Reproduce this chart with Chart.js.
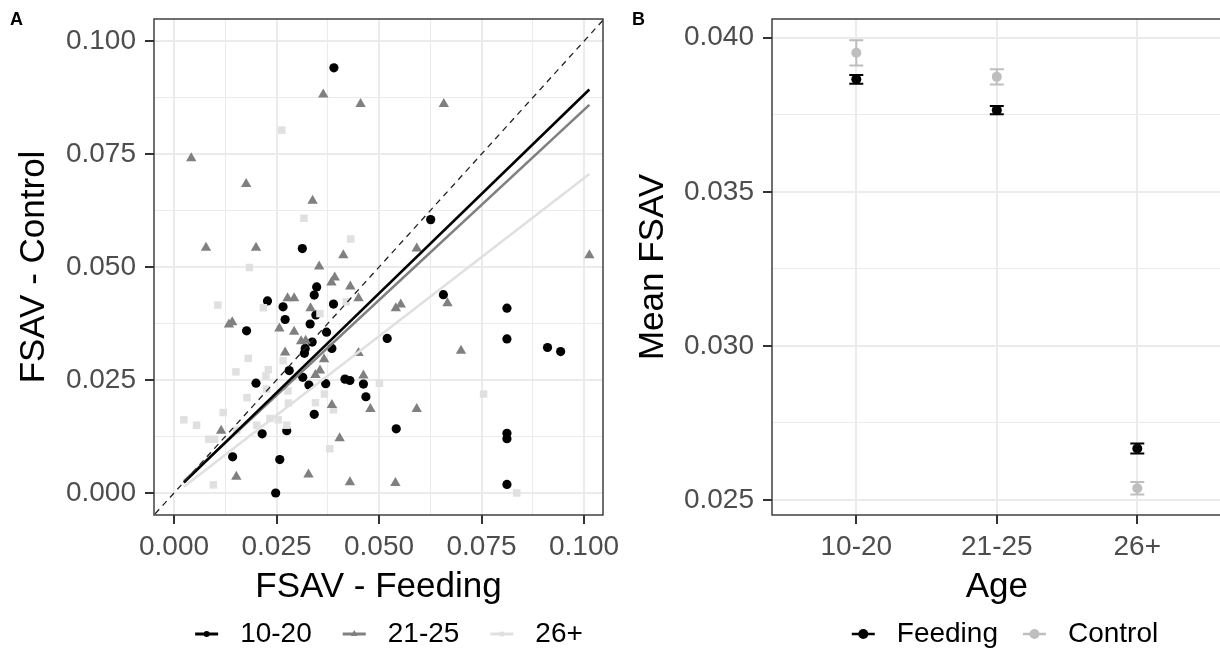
<!DOCTYPE html>
<html><head><meta charset="utf-8">
<script src="https://cdn.jsdelivr.net/npm/chart.js@4.4.1/dist/chart.umd.min.js"></script>
<style>
html,body{margin:0;padding:0;background:#fff;overflow:hidden;width:1220px;height:652px;}
#ca{position:absolute;left:0;top:0;}
#cb{position:absolute;left:628px;top:0;}
</style></head><body>
<canvas id="ca" width="628" height="652"></canvas>
<canvas id="cb" width="602" height="652"></canvas>
<script>
const FONT = "'Liberation Sans', Arial, Helvetica, sans-serif";

// ---------- Panel A data ----------
const groups = ['10-20', '21-25', '26+'];
const g1020_x = [0.0390,0.0626,0.0313,0.0348,0.0342,0.0228,0.0266,0.0389,0.0271,0.0346,0.0332,0.0177,0.0372,0.0657,0.0812,0.0520,0.0812,0.0337,0.0320,0.0318,0.0385,0.0911,0.0943,0.0281,0.0314,0.0200,0.0329,0.0370,0.0417,0.0429,0.0462,0.0468,0.0342,0.0542,0.0812,0.0812,0.0215,0.0275,0.0143,0.0258,0.0812,0.0248];
const g1020_y = [0.0941,0.0605,0.0541,0.0456,0.0438,0.0425,0.0412,0.0418,0.0384,0.0394,0.0374,0.0359,0.0356,0.0439,0.0409,0.0342,0.0341,0.0334,0.0320,0.0309,0.0320,0.0322,0.0313,0.0271,0.0256,0.0243,0.0239,0.0242,0.0252,0.0249,0.0241,0.0213,0.0174,0.0142,0.0132,0.0120,0.0131,0.0138,0.0080,0.0074,0.0019,0.0000];
const g2125_x = [0.0364,0.0455,0.0658,0.0042,0.0176,0.0338,0.0078,0.0200,0.0413,0.0592,0.1013,0.0354,0.0392,0.0384,0.0430,0.0450,0.0277,0.0293,0.0333,0.0541,0.0553,0.0667,0.0134,0.0142,0.0257,0.0293,0.0310,0.0321,0.0271,0.0366,0.0356,0.0345,0.0450,0.0462,0.0385,0.0479,0.0592,0.0700,0.0115,0.0404,0.0152,0.0328,0.0429,0.0540];
const g2125_y = [0.0882,0.0861,0.0861,0.0741,0.0684,0.0647,0.0543,0.0543,0.0526,0.0541,0.0526,0.0501,0.0477,0.0466,0.0457,0.0431,0.0431,0.0431,0.0409,0.0409,0.0417,0.0420,0.0373,0.0378,0.0364,0.0357,0.0336,0.0337,0.0311,0.0296,0.0271,0.0261,0.0310,0.0260,0.0195,0.0186,0.0186,0.0315,0.0138,0.0121,0.0036,0.0041,0.0024,0.0022];
const g26_x = [0.0263,0.0317,0.0431,0.0184,0.0107,0.0218,0.0356,0.0420,0.0181,0.0151,0.0230,0.0224,0.0266,0.0178,0.0226,0.0278,0.0279,0.0120,0.0024,0.0055,0.0085,0.0099,0.0345,0.0367,0.0501,0.0755,0.0380,0.0096,0.0836,0.0234,0.0254,0.0275,0.0202,0.0153,0.0389];
const g26_y = [0.0803,0.0608,0.0562,0.0499,0.0416,0.0410,0.0397,0.0423,0.0298,0.0268,0.0273,0.0259,0.0293,0.0211,0.0230,0.0226,0.0199,0.0178,0.0162,0.0150,0.0119,0.0119,0.0200,0.0219,0.0243,0.0219,0.0098,0.0018,0.0000,0.0165,0.0162,0.0150,0.0150,0.0139,0.0184];
const fit1020_x = [0.0024, 0.1013], fit1020_y = [0.0023, 0.0893];
const fit2125_x = [0.0024, 0.1013], fit2125_y = [0.0026, 0.0859];
const fit26_x = [0.0024, 0.1013], fit26_y = [0.0014, 0.0706];
const identityLine = [-0.01, 0.11];
const aMajor = [0, 0.025, 0.05, 0.075, 0.1];
const aLabels = ['0.000', '0.025', '0.050', '0.075', '0.100'];
const aMinor = [0.0125, 0.0375, 0.0625, 0.0875];

// ---------- Panel B data ----------
const ages = ['10-20', '21-25', '26+'];
const conditions = ['Feeding', 'Control'];
const feedMean = [0.03865, 0.03765, 0.02667];
const feedErr = [0.00014, 0.000135, 0.00016];
const ctrlMean = [0.03951, 0.03873, 0.02538];
const ctrlErr = [0.00041, 0.00025, 0.00020];
const bMajor = [0.025, 0.030, 0.035, 0.040];
const bLabels = ['0.025', '0.030', '0.035', '0.040'];
const bMinor = [0.0275, 0.0325, 0.0375];

// ---------- styles ----------
const colA = ['#000000', '#808080', '#e0e0e0'];
const colB = ['#000000', '#bebebe'];

const pts = (xs, ys) => xs.map((x, i) => ({x, y: ys[i]}));

function makeAxis(o) {
  const isMaj = v => o.majors.some(m => Math.abs(m - v) < 1e-9);
  return {
    type: 'linear', min: o.min, max: o.max,
    afterBuildTicks: s => { s.ticks = o.majors.concat(o.minors).sort((a, b) => a - b).map(v => ({value: v})); },
    ticks: {
      autoSkip: false, maxRotation: 0, minRotation: 0, color: '#4d4d4d',
      font: {family: FONT, size: 28}, padding: o.pad,
      callback: v => { const i = o.majors.findIndex(m => Math.abs(m - v) < 1e-9); return i >= 0 ? o.labels[i] : ''; }
    },
    grid: {
      color: '#ebebeb', lineWidth: c => (c.tick && isMaj(c.tick.value)) ? 2 : 1,
      drawTicks: true, tickLength: 9,
      tickColor: c => (c.tick && isMaj(c.tick.value)) ? '#333333' : 'rgba(0,0,0,0)', tickWidth: 2
    },
    border: {display: false},
    title: {display: true, text: o.title, color: '#000', font: {family: FONT, size: 35}, padding: o.titlePad},
    afterFit: s => {
      if (o.horizontal) { s.height = o.size; s.paddingLeft = 0; s.paddingRight = 0; }
      else { s.width = o.size; s.paddingTop = 0; s.paddingBottom = 0; }
    }
  };
}

function drawMarker(ctx, shape, x, y, r, color) {
  ctx.fillStyle = color;
  ctx.beginPath();
  if (shape === 'circle') ctx.arc(x, y, r, 0, Math.PI * 2);
  else if (shape === 'triangle') { ctx.moveTo(x, y - r); ctx.lineTo(x + r * 0.866, y + r * 0.5); ctx.lineTo(x - r * 0.866, y + r * 0.5); ctx.closePath(); }
  else ctx.rect(x - r * 0.8, y - r * 0.8, r * 1.6, r * 1.6);
  ctx.fill();
}

function drawLegend(ctx, items, cx, y, gap) {
  ctx.save();
  ctx.font = `28px ${FONT}`;
  const keyW = 23, keyGap = 22;
  const widths = items.map(it => ctx.measureText(it.label).width);
  let total = 0;
  widths.forEach((w, i) => { total += keyW + keyGap + w + (i < items.length - 1 ? gap : 0); });
  let x = cx - total / 2;
  items.forEach((it, i) => {
    ctx.strokeStyle = it.color; ctx.lineWidth = it.lw;
    ctx.beginPath(); ctx.moveTo(x, y); ctx.lineTo(x + keyW, y); ctx.stroke();
    drawMarker(ctx, it.shape, x + keyW / 2, y, it.r, it.color);
    ctx.fillStyle = '#000'; ctx.textBaseline = 'middle'; ctx.textAlign = 'left';
    ctx.fillText(it.label, x + keyW + keyGap, y);
    x += keyW + keyGap + widths[i] + gap;
  });
  ctx.restore();
}

const decorPlugin = {
  id: 'decor',
  afterDraw(chart, args, opts) {
    const {ctx, chartArea: a} = chart;
    ctx.save();
    ctx.strokeStyle = '#333333'; ctx.lineWidth = 1.4;
    ctx.strokeRect(a.left, a.top, a.right - a.left, a.bottom - a.top);
    ctx.fillStyle = '#000'; ctx.font = `bold 18px ${FONT}`; ctx.textBaseline = 'alphabetic'; ctx.textAlign = 'left';
    ctx.fillText(opts.tag, opts.tagX, 25);
    ctx.restore();
    drawLegend(ctx, opts.items, opts.legendX, 634, opts.gap);
  }
};

const errorBarPlugin = {
  id: 'errbars',
  beforeDatasetsDraw(chart, args, opts) {
    const {ctx, scales: {x, y}} = chart;
    ctx.save();
    opts.series.forEach(s => {
      ctx.strokeStyle = s.color; ctx.lineWidth = 2;
      s.mean.forEach((m, i) => {
        const px = x.getPixelForValue(i);
        const top = y.getPixelForValue(m + s.err[i]);
        const bot = y.getPixelForValue(m - s.err[i]);
        ctx.beginPath();
        ctx.moveTo(px, top); ctx.lineTo(px, bot);
        ctx.moveTo(px - 7, top); ctx.lineTo(px + 7, top);
        ctx.moveTo(px - 7, bot); ctx.lineTo(px + 7, bot);
        ctx.stroke();
      });
    });
    ctx.restore();
  }
};

// ---------- Chart A ----------
new Chart(document.getElementById('ca'), {
  type: 'scatter',
  data: {
    datasets: [
      {label: 'identity', data: identityLine.map(v => ({x: v, y: v})), showLine: true, pointRadius: 0,
       borderColor: '#222222', borderWidth: 1.3, borderDash: [6, 5], clip: 0, order: 0},
      {label: groups[0] + ' fit', data: pts(fit1020_x, fit1020_y), showLine: true, pointRadius: 0, borderColor: colA[0], borderWidth: 2.6, clip: 0, order: 1},
      {label: groups[1] + ' fit', data: pts(fit2125_x, fit2125_y), showLine: true, pointRadius: 0, borderColor: colA[1], borderWidth: 2.6, clip: 0, order: 2},
      {label: groups[2] + ' fit', data: pts(fit26_x, fit26_y), showLine: true, pointRadius: 0, borderColor: colA[2], borderWidth: 2.6, clip: 0, order: 3},
      {label: groups[1], data: pts(g2125_x, g2125_y), pointStyle: 'triangle', pointRadius: 6, backgroundColor: colA[1], borderWidth: 0, order: 4},
      {label: groups[2], data: pts(g26_x, g26_y), pointStyle: 'rect', pointRadius: 5.3, backgroundColor: colA[2], borderWidth: 0, order: 5},
      {label: groups[0], data: pts(g1020_x, g1020_y), pointStyle: 'circle', pointRadius: 4.6, backgroundColor: colA[0], borderWidth: 0, order: 6}
    ]
  },
  options: {
    responsive: false, animation: false, events: [],
    layout: {padding: {left: 0, top: 19, right: 25, bottom: 0}},
    plugins: {
      legend: {display: false}, tooltip: {enabled: false},
      decor: {tag: 'A', tagX: 10, legendX: 389, gap: 31, items: [
        {label: groups[0], color: colA[0], shape: 'circle', r: 3, lw: 3},
        {label: groups[1], color: colA[1], shape: 'triangle', r: 4, lw: 3},
        {label: groups[2], color: colA[2], shape: 'square', r: 3, lw: 3}
      ]}
    },
    scales: {
      x: makeAxis({horizontal: true, size: 137, min: -0.00488, max: 0.10463, majors: aMajor, labels: aLabels, minors: aMinor,
                   pad: 6, title: 'FSAV - Feeding', titlePad: {top: 0, bottom: 44}}),
      y: makeAxis({horizontal: false, size: 154, min: -0.00487, max: 0.1049, majors: aMajor, labels: aLabels, minors: aMinor,
                   pad: 9, title: 'FSAV - Control', titlePad: {top: 13, bottom: 0}})
    }
  },
  plugins: [decorPlugin]
});

// ---------- Chart B ----------
const ageIdx = ages.map((a, i) => i);
new Chart(document.getElementById('cb'), {
  type: 'scatter',
  data: {
    datasets: [
      {label: conditions[0], data: pts(ageIdx, feedMean), pointStyle: 'circle', pointRadius: 5, backgroundColor: colB[0], borderWidth: 0, order: 0},
      {label: conditions[1], data: pts(ageIdx, ctrlMean), pointStyle: 'circle', pointRadius: 5, backgroundColor: colB[1], borderWidth: 0, order: 1}
    ]
  },
  options: {
    responsive: false, animation: false, events: [],
    layout: {padding: {left: 0, top: 19, right: 8.4, bottom: 0}},
    plugins: {
      legend: {display: false}, tooltip: {enabled: false},
      errbars: {series: [
        {mean: ctrlMean, err: ctrlErr, color: colB[1]},
        {mean: feedMean, err: feedErr, color: colB[0]}
      ]},
      decor: {tag: 'B', tagX: 4, legendX: 377, gap: 25, items: [
        {label: conditions[0], color: colB[0], shape: 'circle', r: 5, lw: 2.5},
        {label: conditions[1], color: colB[1], shape: 'circle', r: 5, lw: 2.5}
      ]}
    },
    scales: {
      x: makeAxis({horizontal: true, size: 137, min: -0.6, max: 2.6, majors: ageIdx, labels: ages, minors: [],
                   pad: 6, title: 'Age', titlePad: {top: 0, bottom: 44}}),
      y: makeAxis({horizontal: false, size: 144, min: 0.024513, max: 0.040607, majors: bMajor, labels: bLabels, minors: bMinor,
                   pad: 9, title: 'Mean FSAV', titlePad: {top: 4.5, bottom: 0}})
    }
  },
  plugins: [errorBarPlugin, decorPlugin]
});
</script>
</body></html>
